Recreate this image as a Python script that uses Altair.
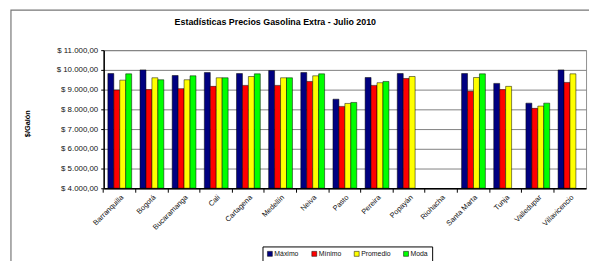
import altair as alt
import pandas as pd

ciudades = ["Barranquilla", "Bogotá", "Bucaramanga", "Cali", "Cartagena", "Medellín",
            "Neiva", "Pasto", "Pereira", "Popayán", "Riohacha", "Santa Marta",
            "Tunja", "Valledupar", "Villavicencio"]
maximo = [9815, 10000, 9715, 9865, 9815, 9965, 9865, 8515, 9615, 9815, None, 9815, 9315, 8315, 10000]
minimo = [8980, 9000, 9050, 9165, 9215, 9215, 9415, 8150, 9215, 9565, None, 8915, 9000, 8050, 9365]
promedio = [9480, 9600, 9500, 9600, 9665, 9600, 9700, 8300, 9350, 9665, None, 9615, 9165, 8165, 9800]
moda = [9800, 9500, 9700, 9600, 9800, 9600, 9800, 8350, 9415, None, None, 9800, None, 8315, None]
series = ["Máximo", "Mínimo", "Promedio", "Moda"]
colores = ["#000080", "#FF0000", "#FFFF00", "#00FF00"]
titulo = "Estadísticas Precios Gasolina Extra - Julio 2010"

rows = []
for s, vals in zip(series, [maximo, minimo, promedio, moda]):
    for c, v in zip(ciudades, vals):
        if v is not None:
            rows.append({"Ciudad": c, "Serie": s, "Valor": v})
df = pd.DataFrame(rows)

FONT = "Liberation Sans"
xscale = alt.Scale(domain=ciudades, paddingInner=0.26, paddingOuter=0.13)
yvals = [4000, 5000, 6000, 7000, 8000, 9000, 10000, 11000]

label_expr = ("'$ ' + replace(replace(replace(format(datum.value, ',.2f'), ',', '#'), '.', ','), '#', '.')")

frame = alt.Chart(pd.DataFrame({"f": [0]})).mark_rect(
    fill=None, stroke="#777777", strokeWidth=1.2
).encode(x=alt.value(-94), y=alt.value(-40.5), x2=alt.value(600), y2=alt.value(400))

bars = alt.Chart(df).mark_bar(stroke="#000000", strokeWidth=0.5, clip=True).encode(
    x=alt.X("Ciudad:N", sort=ciudades, scale=xscale,
            axis=alt.Axis(title=None, labelAngle=-45, labelFont=FONT, labelFontSize=7.5,
                          labelColor="#111111", ticks=False, domainColor="#000000",
                          domainWidth=1.5, labelPadding=5, labelLimit=200)),
    xOffset=alt.XOffset("Serie:N", sort=series,
                        scale=alt.Scale(domain=series, paddingInner=0, paddingOuter=0)),
    y=alt.Y("Valor:Q", scale=alt.Scale(domain=[4000, 11000], zero=False, nice=False),
            axis=alt.Axis(title="$/Galón", values=yvals, labelOverlap=False,
                          labelExpr=label_expr, labelFont=FONT, labelFontSize=8,
                          labelColor="#111111", tickColor="#000000", tickSize=3,
                          labelPadding=3, domainColor="#000000", domainWidth=1.5,
                          gridColor="#808080", gridWidth=1,
                          titleFont=FONT, titleFontSize=7.5, titleFontWeight="bold",
                          titleColor="#000000", titleX=-77, titleY=74, titleAngle=-90,
                          titleAlign="center", titleBaseline="middle")),
    y2=alt.datum(4000),
    color=alt.Color("Serie:N", sort=series, scale=alt.Scale(domain=series, range=colores),
                    legend=alt.Legend(title=None, orient="none", legendX=161, legendY=199,
                                      direction="horizontal", strokeColor="#000000",
                                      fillColor="#FFFFFF", padding=4, symbolType="square",
                                      symbolSize=25, symbolStrokeColor="#000000",
                                      symbolStrokeWidth=0.5, labelFont=FONT, labelFontSize=7,
                                      labelColor="#111111", columnPadding=12, labelOffset=1)),
)

ticks_layer = alt.Chart(df).mark_bar(opacity=0).encode(
    x=alt.X("Ciudad:N", sort=ciudades, scale=xscale,
            axis=alt.Axis(title=None, labels=False, domain=False, ticks=True, tickSize=4,
                          tickColor="#000000", bandPosition=-0.176, orient="bottom", grid=False)),
)

title_layer = alt.Chart(pd.DataFrame({"t": [titulo]})).mark_text(
    font=FONT, fontSize=9, fontWeight="bold", color="#000000",
    align="center", baseline="middle"
).encode(x=alt.value(174), y=alt.value(-28.5), text="t:N")

chart = alt.layer(frame, bars, ticks_layer, title_layer).resolve_axis(x="independent").properties(
    width=489, height=140,
    autosize=alt.AutoSizeParams(type="none"),
    padding={"left": 97, "top": 41, "right": 3, "bottom": 72},
    background="#FFFFFF",
).configure_view(stroke="#909090", strokeWidth=1)

chart.save("out.html", embed_options={"renderer": "svg", "actions": False})
